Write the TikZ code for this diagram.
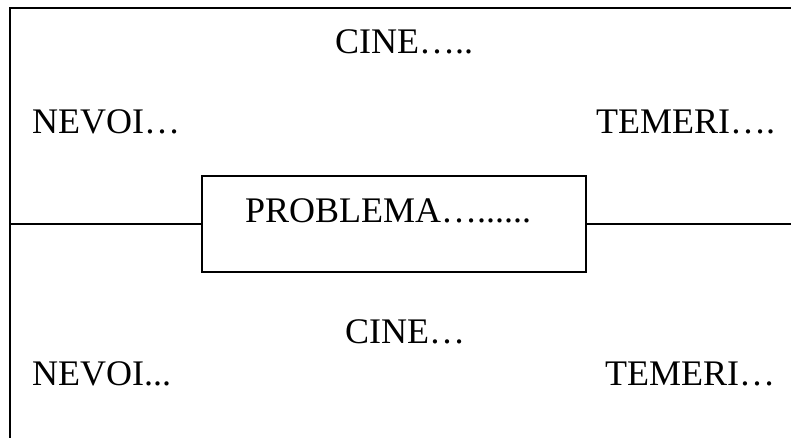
\documentclass[tikz,border=0pt]{standalone}
\usepackage{fontspec}
\setmainfont{Liberation Serif}
\begin{document}
\begin{tikzpicture}[x=1pt,y=-1pt,
  lbl/.style={anchor=base west,inner sep=0pt,font=\fontsize{36}{40}\selectfont},
  frame/.style={line width=1.3pt,line cap=rect},
  boxst/.style={draw,line width=1.3pt,rectangle,minimum width=384pt,minimum height=96pt,inner sep=0pt}]
\useasboundingbox (0,0) rectangle (791,437);
% frame
\coordinate (tl) at (10,8);
\coordinate (tr) at (795,8);
\coordinate (bl) at (10,441);
\draw[frame] (bl) -- (tl) -- (tr);
% central box
\node[boxst] (box) at (394,224) {};
\coordinate (hl) at (10,224);
\coordinate (hr) at (795,224);
\draw[frame] (hl) -- (box.west);
\draw[frame] (box.east) -- (hr);
% texts
\node[lbl] (cine1) at (335,53) {CINE…..};
\node[lbl] (nevoi1) at (32,133) {NEVOI…};
\node[lbl] (temeri1) at (596,133) {TEMERI….};
\node[lbl] (problema) at (245,222) {PROBLEMA…......};
\node[lbl] (cine2) at (345,343) {CINE…};
\node[lbl] (nevoi2) at (32,385) {NEVOI...};
\node[lbl] (temeri2) at (605,385) {TEMERI…};
\end{tikzpicture}
\end{document}
